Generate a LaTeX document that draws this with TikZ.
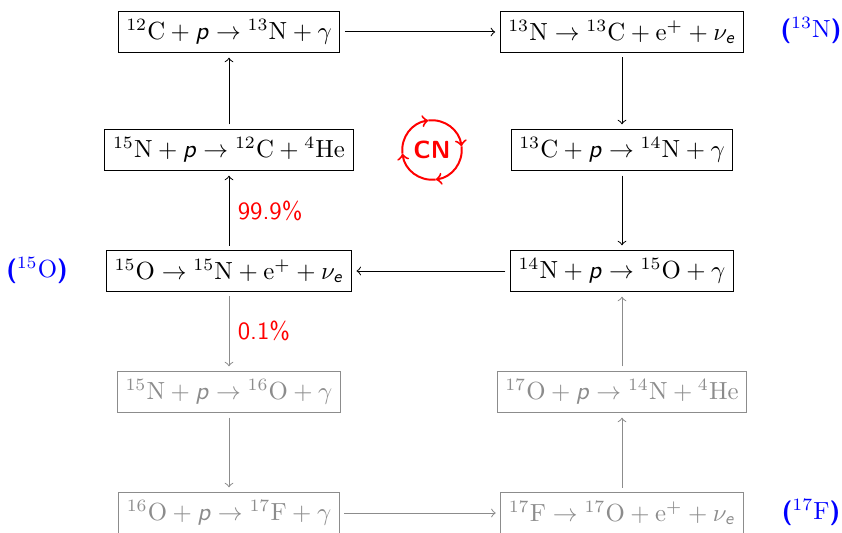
\documentclass[tikz,border=0pt]{standalone}
\usepackage{amsmath}
\newcommand{\prt}{\textsf{\textit{p}}}
\newcommand{\nue}{\nu_{\textsf{\textit{e}}}}
\newcommand{\iso}[2]{{}^{#1}\mathrm{#2}}
\newcommand{\bpar}[1]{\textsf{\textbf{#1}}}
\begin{document}
\begin{tikzpicture}[x=0.4036pt,y=-0.4036pt,
  rx/.style={draw,outer sep=2pt,inner sep=3.33pt},
  dim/.style={draw=black!45,text=black!45},
  flow/.style={->},
  dimflow/.style={->,draw=black!45},
  pct/.style={text=red,font=\sffamily},
  tag/.style={text=blue}]
\useasboundingbox (0,0) rectangle (842,533);
\node[rx] (a) at (229,32) {$\iso{12}{C}+\prt\to\iso{13}{N}+\gamma$};
\node[rx] (b) at (622,32) {$\iso{13}{N}\to\iso{13}{C}+\mathrm{e}^{+}+\nue$};
\node[rx] (c) at (229,150) {$\iso{15}{N}+\prt\to\iso{12}{C}+\iso{4}{He}$};
\node[rx] (d) at (622,150) {$\iso{13}{C}+\prt\to\iso{14}{N}+\gamma$};
\node[rx] (e) at (229,271) {$\iso{15}{O}\to\iso{15}{N}+\mathrm{e}^{+}+\nue$};
\node[rx] (f) at (622,271) {$\iso{14}{N}+\prt\to\iso{15}{O}+\gamma$};
\node[rx,dim] (g) at (229,392) {$\iso{15}{N}+\prt\to\iso{16}{O}+\gamma$};
\node[rx,dim] (h) at (622,392) {$\iso{17}{O}+\prt\to\iso{14}{N}+\iso{4}{He}$};
\node[rx,dim] (i) at (229,513) {$\iso{16}{O}+\prt\to\iso{17}{F}+\gamma$};
\node[rx,dim] (j) at (622,513) {$\iso{17}{F}\to\iso{17}{O}+\mathrm{e}^{+}+\nue$};
\draw[flow] (a) -- (b);
\draw[flow] (b) -- (d);
\draw[flow] (d) -- (f);
\draw[flow] (f) -- (e);
\draw[flow] (e) -- node[pct,right] (p1) {99.9\%} (c);
\draw[flow] (c) -- (a);
\draw[dimflow] (e) -- node[pct,right] (p2) {0.1\%} (g);
\draw[dimflow] (g) -- (i);
\draw[dimflow] (i) -- (j);
\draw[dimflow] (j) -- (h);
\draw[dimflow] (h) -- (f);
\node[tag] (t1) at (811,31) {\bpar{(}$\iso{13}{N}$\bpar{)}};
\node[tag] (t2) at (37,271) {\bpar{(}$\iso{15}{O}$\bpar{)}};
\node[tag] (t3) at (811,513) {\bpar{(}$\iso{17}{F}$\bpar{)}};
\node[text=red,font=\sffamily\bfseries] (cn) at (432,150) {CN};
\begin{scope}[red,thick,->]
\draw (cn.center) ++(187:12pt) arc[start angle=187,end angle=97,radius=12pt];
\draw (cn.center) ++(97:12pt) arc[start angle=97,end angle=7,radius=12pt];
\draw (cn.center) ++(7:12pt) arc[start angle=7,end angle=-83,radius=12pt];
\draw (cn.center) ++(-83:12pt) arc[start angle=-83,end angle=-173,radius=12pt];
\end{scope}
\end{tikzpicture}
\end{document}
